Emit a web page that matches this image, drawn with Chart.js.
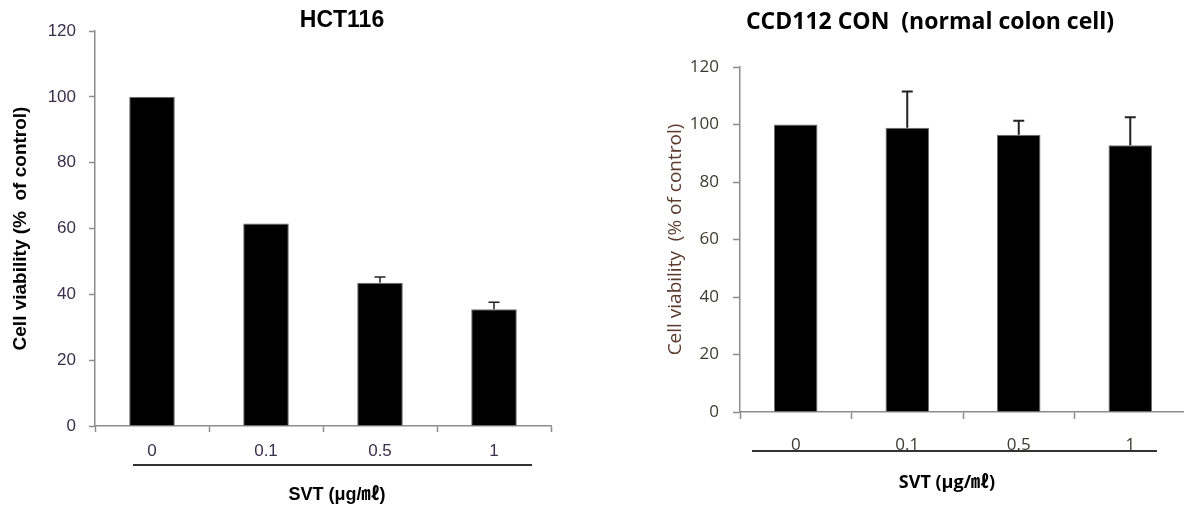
<!DOCTYPE html>
<html>
<head>
<meta charset="utf-8">
<script src="https://cdn.jsdelivr.net/npm/chart.js@4.4.0/dist/chart.umd.min.js"></script>
<style>
  html, body { margin: 0; padding: 0; background: #fff; overflow: hidden; }
  #wrap { position: relative; width: 1184px; height: 507px; overflow: hidden; }
  #hctBox { position: absolute; left: 0; top: 0; width: 600px; height: 507px; }
  #ccdBox { position: absolute; left: 620px; top: 0; width: 570px; height: 507px; }
</style>
</head>
<body>
<div id="wrap">
  <div id="hctBox"><canvas id="hctChart"></canvas></div>
  <div id="ccdBox"><canvas id="ccdChart"></canvas></div>
</div>
<script>
// data
var doses = ['0', '0.1', '0.5', '1'];
var hctViability = [100, 61.5, 43.5, 35.5];
var hctError = [0, 0, 1.8, 2.1];
var ccdViability = [100, 98.9, 96.4, 92.8];
var ccdError = [0, 12.6, 4.9, 9.7];
var yTicks = [0, 20, 40, 60, 80, 100, 120];

// error bars drawn from the bar elements and the y scale
var errorBars = {
    id: 'errorBars',
    afterDatasetsDraw: function(chart, args, opts) {
        var ctx = chart.ctx;
        var y = chart.scales.y;
        chart.data.datasets.forEach(function(ds, i) {
            var meta = chart.getDatasetMeta(i);
            meta.data.forEach(function(bar, j) {
                var err = ds.errors[j];
                if (!err) return;
                var top = y.getPixelForValue(ds.data[j] + err);
                ctx.save();
                ctx.strokeStyle = opts.color;
                ctx.lineWidth = opts.width;
                ctx.beginPath();
                ctx.moveTo(bar.x, bar.y);
                ctx.lineTo(bar.x, top);
                ctx.moveTo(bar.x - opts.cap, top);
                ctx.lineTo(bar.x + opts.cap, top);
                ctx.stroke();
                ctx.restore();
            });
        });
    }
};

// chart title, x-axis caption and the rule under the dose labels
var decorations = {
    id: 'decorations',
    afterDraw: function(chart, args, opts) {
        var ctx = chart.ctx;
        ctx.save();
        ctx.fillStyle = '#000';
        ctx.textAlign = 'center';
        ctx.textBaseline = 'middle';
        ctx.font = opts.titleFont;
        ctx.fillText(opts.title, opts.titleX, opts.titleY);
        ctx.font = opts.xTitleFont;
        ctx.fillText(opts.xTitle, opts.xTitleX, opts.xTitleY);
        ctx.strokeStyle = '#333';
        ctx.lineWidth = 2;
        ctx.beginPath();
        ctx.moveTo(opts.ruleX1, opts.ruleY);
        ctx.lineTo(opts.ruleX2, opts.ruleY);
        ctx.stroke();
        ctx.restore();
    }
};

function makeChart(id, cfg) {
    var ctx = document.getElementById(id).getContext('2d');
    return new Chart(ctx, {
        type: 'bar',
        data: {
            labels: doses,
            datasets: [{
                data: cfg.values,
                errors: cfg.errors,
                backgroundColor: '#000',
                borderColor: '#6e6e6e',
                borderWidth: 1,
                categoryPercentage: 1,
                barPercentage: cfg.barPct
            }]
        },
        options: {
            responsive: true,
            maintainAspectRatio: false,
            animation: false,
            layout: { padding: cfg.padding },
            plugins: {
                legend: { display: false },
                tooltip: { enabled: false },
                title: { display: false },
                errorBars: { color: '#222', width: cfg.errWidth, cap: 5.5 },
                decorations: cfg.deco
            },
            scales: {
                x: {
                    afterFit: function(s) { s.height = cfg.xHeight; },
                    grid: { display: true, drawOnChartArea: false, offset: true, tickLength: cfg.xTickLen, tickColor: '#8c8c8c', tickWidth: 1.5 },
                    border: { color: '#8c8c8c', width: 1.5 },
                    ticks: { color: cfg.tickColor, font: cfg.tickFont, padding: cfg.xPad }
                },
                y: {
                    min: 0,
                    max: 120,
                    afterFit: function(s) { s.width = cfg.yWidth; },
                    afterBuildTicks: function(s) { s.ticks = yTicks.map(function(v) { return { value: v }; }); },
                    grid: { display: true, drawOnChartArea: false, tickLength: cfg.yTickLen, tickColor: '#8c8c8c', tickWidth: 1.5 },
                    border: { color: '#8c8c8c', width: 1.5 },
                    ticks: { color: cfg.tickColor, font: cfg.tickFont, padding: cfg.yPad },
                    title: {
                        display: true,
                        text: cfg.yTitle,
                        color: cfg.yTitleColor,
                        font: cfg.yTitleFont,
                        padding: { top: cfg.yTitlePad, bottom: 0 }
                    }
                }
            }
        },
        plugins: [errorBars, decorations]
    });
}

document.addEventListener('DOMContentLoaded', function() {
    makeChart('hctChart', {
        values: hctViability,
        errors: hctError,
        barPct: 0.4,
        errWidth: 1.5,
        padding: { top: 31, right: 49, left: 0, bottom: 0 },
        yWidth: 95,
        xHeight: 81,
        xTickLen: 6,
        yTickLen: 6,
        xPad: 9,
        yPad: 13,
        tickColor: '#38304c',
        tickFont: { family: '"Liberation Sans", Arial, sans-serif', size: 17 },
        yTitle: 'Cell viability (%  of control)',
        yTitleColor: '#000',
        yTitleFont: { family: '"Liberation Sans", Arial, sans-serif', size: 19, weight: 'bold' },
        yTitlePad: 9,
        deco: {
            title: 'HCT116',
            titleFont: 'bold 23px "Liberation Sans", Arial, sans-serif',
            titleX: 342, titleY: 21,
            xTitle: 'SVT (μg/㎖)',
            xTitleFont: 'bold 18px "Liberation Sans", Arial, "Noto Sans CJK KR", sans-serif',
            xTitleX: 337, xTitleY: 495,
            ruleX1: 133, ruleX2: 532, ruleY: 465
        }
    });

    makeChart('ccdChart', {
        values: ccdViability,
        errors: ccdError,
        barPct: 0.39,
        errWidth: 2,
        padding: { top: 67, right: 4, left: 0, bottom: 0 },
        yWidth: 120,
        xHeight: 95,
        xTickLen: 7,
        yTickLen: 7,
        xPad: 16,
        yPad: 14,
        tickColor: '#3e3a30',
        tickFont: { family: '"Open Sans", "Noto Sans CJK KR", sans-serif', size: 17 },
        yTitle: 'Cell viability  (% of control)',
        yTitleColor: '#5c3a2e',
        yTitleFont: { family: '"Open Sans", "Noto Sans CJK KR", sans-serif', size: 19 },
        yTitlePad: 44,
        deco: {
            title: 'CCD112 CON  (normal colon cell)',
            titleFont: 'bold 23px "Open Sans", "Noto Sans CJK KR", sans-serif',
            titleX: 310, titleY: 22,
            xTitle: 'SVT (μg/㎖)',
            xTitleFont: 'bold 18px "Open Sans", "Noto Sans CJK KR", sans-serif',
            xTitleX: 327, xTitleY: 483,
            ruleX1: 132, ruleX2: 537, ruleY: 451
        }
    });
});
</script>
</body>
</html>
